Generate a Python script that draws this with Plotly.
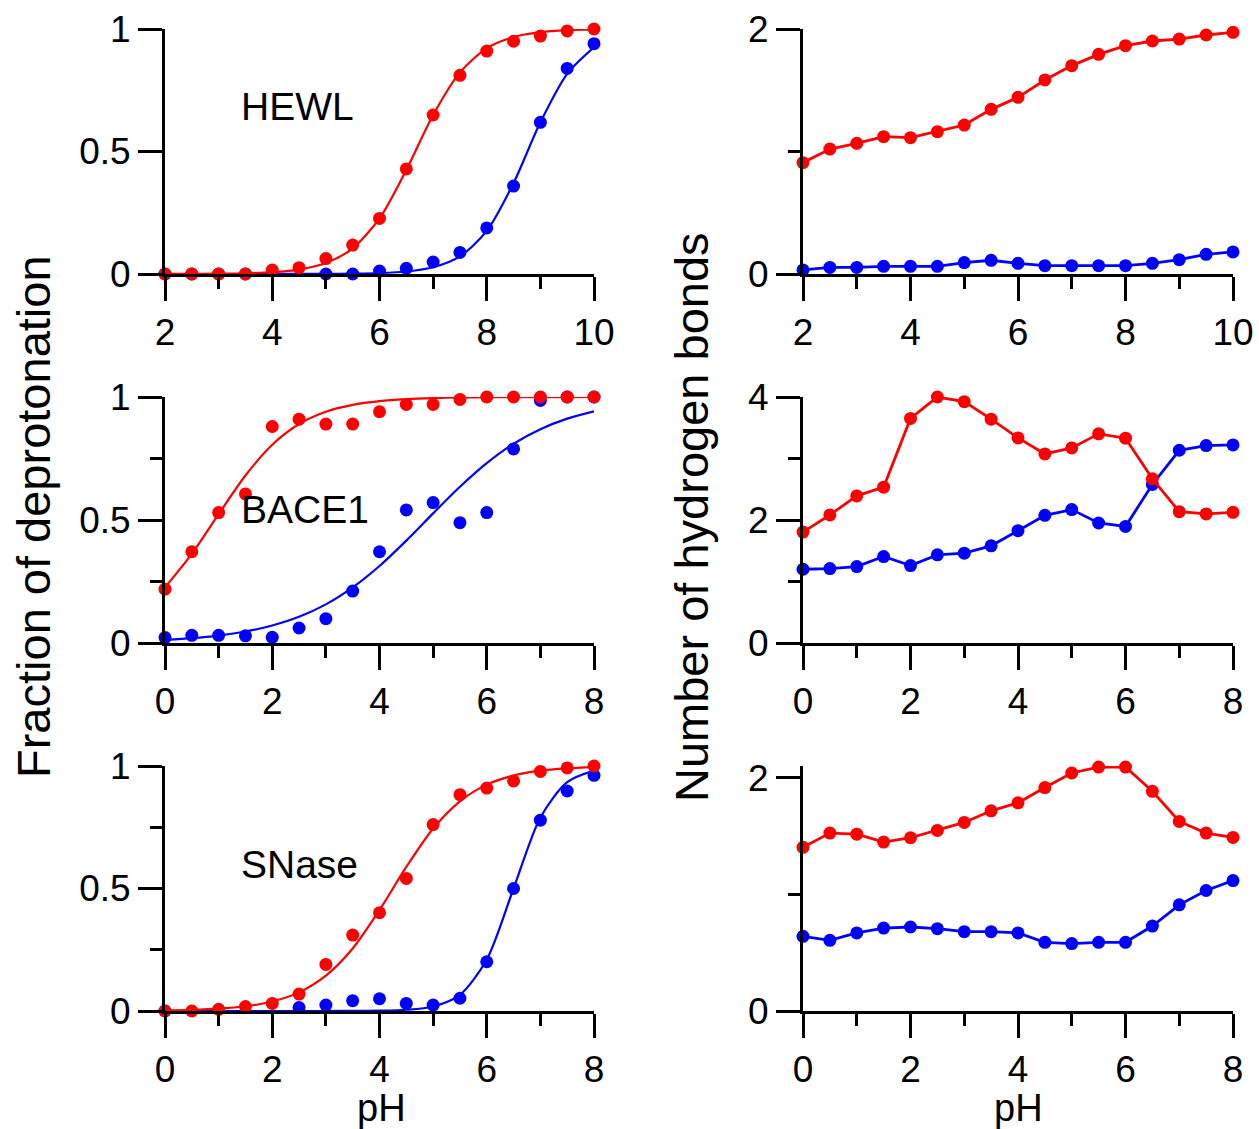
import plotly.graph_objects as go

RED = "#ff0000"
BLUE = "#0000ff"
FONT = "Liberation Sans, Arial, Helvetica, sans-serif"

# ---------------- data ----------------
ph_2_10 = [2.0, 2.5, 3.0, 3.5, 4.0, 4.5, 5.0, 5.5, 6.0, 6.5, 7.0, 7.5, 8.0, 8.5, 9.0, 9.5, 10.0]
ph_0_8 = [0.0, 0.5, 1.0, 1.5, 2.0, 2.5, 3.0, 3.5, 4.0, 4.5, 5.0, 5.5, 6.0, 6.5, 7.0, 7.5, 8.0]

# HEWL fraction of deprotonation
hewl_frac_red = [0.0, 0.0, 0.0, 0.0, 0.016, 0.026, 0.063, 0.118, 0.227, 0.429, 0.649, 0.811, 0.910, 0.950, 0.971, 0.992, 1.0]
hewl_frac_blue = [0.0, 0.0, 0.0, 0.0, -0.003, -0.005, 0.0, 0.0, 0.012, 0.023, 0.049, 0.088, 0.188, 0.359, 0.619, 0.839, 0.940]
hewl_fit_red = [0.0002, 0.0005, 0.0012, 0.0029, 0.0073, 0.018, 0.0445, 0.105, 0.227, 0.425, 0.649, 0.823, 0.921, 0.967, 0.987, 0.995, 0.998]
hewl_fit_blue = [0.0, 0.0, 0.0, 0.0, 0.0001, 0.0002, 0.0005, 0.0014, 0.0037, 0.0102, 0.0275, 0.072, 0.176, 0.371, 0.619, 0.817, 0.925]

# BACE1 fraction of deprotonation
bace_frac_red = [0.219, 0.371, 0.530, 0.606, 0.880, 0.910, 0.890, 0.890, 0.940, 0.970, 0.970, 0.990, 1.0, 1.0, 1.0, 1.0, 1.0]
bace_frac_blue = [0.022, 0.031, 0.031, 0.029, 0.023, 0.061, 0.099, 0.211, 0.371, 0.541, 0.571, 0.489, 0.530, 0.789, 0.986, 1.0, 1.0]
bace_fit_red = [0.226, 0.362, 0.524, 0.681, 0.806, 0.890, 0.940, 0.968, 0.983, 0.991, 0.9955, 0.998, 0.999, 0.9994, 0.9997, 0.9998, 0.9999]
bace_fit_blue = [0.0126, 0.0196, 0.0303, 0.0466, 0.0710, 0.1066, 0.157, 0.226, 0.313, 0.416, 0.527, 0.635, 0.731, 0.810, 0.869, 0.912, 0.942]

# SNase fraction of deprotonation
snase_frac_red = [0.0, 0.0, 0.007, 0.018, 0.031, 0.069, 0.190, 0.310, 0.401, 0.541, 0.761, 0.883, 0.910, 0.939, 0.978, 0.992, 1.0]
snase_frac_blue = [0.0, -0.002, -0.002, -0.002, -0.002, 0.014, 0.024, 0.042, 0.050, 0.031, 0.024, 0.052, 0.201, 0.500, 0.779, 0.898, 0.962]
snase_fit_red = [0.0023, 0.0047, 0.0096, 0.0193, 0.0387, 0.076, 0.144, 0.255, 0.412, 0.588, 0.745, 0.856, 0.924, 0.961, 0.981, 0.990, 0.995]
snase_fit_blue = [0.0, 0.0, 0.0, 0.0, 0.0, 0.0, 0.0001, 0.0004, 0.0013, 0.005, 0.0185, 0.066, 0.210, 0.500, 0.790, 0.934, 0.981]

# Number of hydrogen bonds
hewl_hb_red = [0.909, 1.020, 1.067, 1.121, 1.113, 1.162, 1.216, 1.344, 1.442, 1.584, 1.701, 1.793, 1.864, 1.902, 1.918, 1.951, 1.973]
hewl_hb_blue = [0.033, 0.054, 0.054, 0.063, 0.063, 0.063, 0.093, 0.112, 0.087, 0.068, 0.068, 0.068, 0.068, 0.087, 0.117, 0.161, 0.180]
bace_hb_red = [1.804, 2.082, 2.392, 2.534, 3.651, 4.0, 3.924, 3.640, 3.335, 3.074, 3.172, 3.401, 3.330, 2.670, 2.136, 2.098, 2.125]
bace_hb_blue = [1.199, 1.210, 1.243, 1.406, 1.259, 1.433, 1.460, 1.580, 1.826, 2.076, 2.169, 1.951, 1.896, 2.578, 3.134, 3.210, 3.221]
snase_hb_red = [1.403, 1.525, 1.516, 1.448, 1.485, 1.548, 1.616, 1.716, 1.784, 1.915, 2.040, 2.091, 2.091, 1.883, 1.625, 1.525, 1.488]
snase_hb_blue = [0.640, 0.606, 0.669, 0.711, 0.720, 0.706, 0.680, 0.680, 0.669, 0.589, 0.578, 0.589, 0.589, 0.728, 0.910, 1.033, 1.118]

protein_labels = ["HEWL", "BACE1", "SNase"]
ytitle_left = "Fraction of deprotonation"
ytitle_right = "Number of hydrogen bonds"
xtitle = "pH"

# ---------------- figure ----------------
fig = go.Figure()

def add_fit_panel(ax, x, fit_b, pts_b, fit_r, pts_r):
    xa, ya = ("x", "y") if ax == 1 else (f"x{ax}", f"y{ax}")
    for fit, pts, col in [(fit_b, pts_b, BLUE), (fit_r, pts_r, RED)]:
        fig.add_trace(go.Scatter(x=x, y=fit, mode="lines", line=dict(color=col, width=2.2, shape="spline", smoothing=0.8),
                                 xaxis=xa, yaxis=ya, cliponaxis=False, showlegend=False, hoverinfo="skip"))
        fig.add_trace(go.Scatter(x=x, y=pts, mode="markers", marker=dict(color=col, size=13),
                                 xaxis=xa, yaxis=ya, cliponaxis=False, showlegend=False))

def add_line_panel(ax, x, b, r):
    xa, ya = f"x{ax}", f"y{ax}"
    for y, col in [(b, BLUE), (r, RED)]:
        fig.add_trace(go.Scatter(x=x, y=y, mode="lines+markers", line=dict(color=col, width=2.8),
                                 marker=dict(color=col, size=13),
                                 xaxis=xa, yaxis=ya, cliponaxis=False, showlegend=False))

add_fit_panel(1, ph_2_10, hewl_fit_blue, hewl_frac_blue, hewl_fit_red, hewl_frac_red)
add_line_panel(2, ph_2_10, hewl_hb_blue, hewl_hb_red)
add_fit_panel(3, ph_0_8, bace_fit_blue, bace_frac_blue, bace_fit_red, bace_frac_red)
add_line_panel(4, ph_0_8, bace_hb_blue, bace_hb_red)
add_fit_panel(5, ph_0_8, snase_fit_blue, snase_frac_blue, snase_fit_red, snase_frac_red)
add_line_panel(6, ph_0_8, snase_hb_blue, snase_hb_red)

W, H = 1259, 1129
xl = [165 / W, 594 / W]
xr = [803 / W, 1233 / W]
rows = [[1 - 274 / H, 1 - 29 / H], [1 - 643 / H, 1 - 397 / H], [1 - 1011 / H, 1 - 766 / H]]

tickfont = dict(family=FONT, size=37, color="black")

def xaxis(domain, rng, anchor):
    return dict(domain=domain, range=rng, anchor=anchor, showline=True, linecolor="black", linewidth=3,
                ticks="outside", ticklen=24, tickwidth=3, tickcolor="black", dtick=2, tick0=0,
                minor=dict(dtick=1, tick0=0, ticklen=12, tickwidth=3, tickcolor="black", ticks="outside", showgrid=False),
                showgrid=False, zeroline=False, tickfont=tickfont, fixedrange=True, automargin=False)

def yaxis(domain, rng, anchor, dtick, minor_dtick):
    d = dict(domain=domain, range=rng, anchor=anchor, showline=True, linecolor="black", linewidth=3,
             ticks="outside", ticklen=24, tickwidth=3, tickcolor="black", dtick=dtick, tick0=0,
             showgrid=False, zeroline=False, tickfont=tickfont, fixedrange=True, automargin=False)
    if minor_dtick:
        d["minor"] = dict(dtick=minor_dtick, tick0=0, ticklen=12, tickwidth=3, tickcolor="black", ticks="outside", showgrid=False)
    return d

fig.update_layout(
    width=W, height=H, margin=dict(l=0, r=0, t=0, b=0, autoexpand=False),
    paper_bgcolor="white", plot_bgcolor="white", showlegend=False,
    font=dict(family=FONT, color="black"),
    xaxis=xaxis(xl, [2, 10], "y"), yaxis=yaxis(rows[0], [0, 1], "x", 0.5, None),
    xaxis2=xaxis(xr, [2, 10], "y2"), yaxis2=yaxis(rows[0], [0, 2], "x2", 2, 1),
    xaxis3=xaxis(xl, [0, 8], "y3"), yaxis3=yaxis(rows[1], [0, 1], "x3", 0.5, 0.25),
    xaxis4=xaxis(xr, [0, 8], "y4"), yaxis4=yaxis(rows[1], [0, 4], "x4", 2, 1),
    xaxis5=xaxis(xl, [0, 8], "y5"), yaxis5=yaxis(rows[2], [0, 1], "x5", 0.5, 0.25),
    xaxis6=xaxis(xr, [0, 8], "y6"), yaxis6=yaxis(rows[2], [0, 2.1], "x6", 2, 1),
)

anns = []
for lab, yc in zip(protein_labels, [107, 510, 864]):
    anns.append(dict(text=lab, x=239 / W, y=1 - yc / H, xref="paper", yref="paper", xanchor="left", yanchor="middle",
                     showarrow=False, font=dict(family=FONT, size=39, color="black")))
anns.append(dict(text=ytitle_left, x=33 / W, y=1 - 517 / H, xref="paper", yref="paper", textangle=-90,
                 xanchor="center", yanchor="middle", showarrow=False, font=dict(family=FONT, size=47, color="black")))
anns.append(dict(text=ytitle_right, x=691 / W, y=1 - 517 / H, xref="paper", yref="paper", textangle=-90,
                 xanchor="center", yanchor="middle", showarrow=False, font=dict(family=FONT, size=47, color="black")))
for xc in [381, 1018]:
    anns.append(dict(text=xtitle, x=xc / W, y=1 - 1108 / H, xref="paper", yref="paper", xanchor="center", yanchor="middle",
                     showarrow=False, font=dict(family=FONT, size=38, color="black")))
fig.update_layout(annotations=anns)

fig.write_html("out.html")
